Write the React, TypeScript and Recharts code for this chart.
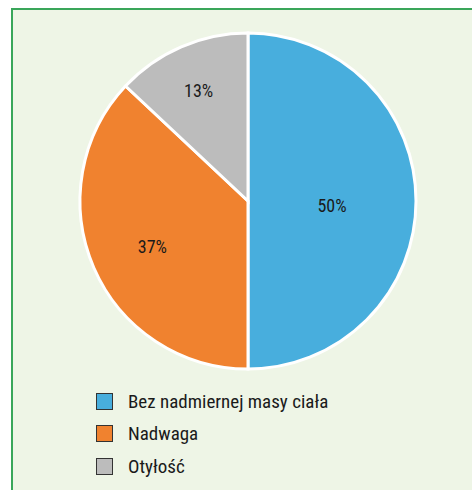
import { PieChart, Pie, Cell } from 'recharts';

const categories = ['Bez nadmiernej masy ciała', 'Nadwaga', 'Otyłość'];
const shares = [50, 37, 13];
const colors = ['#48aedd', '#f0822f', '#bcbcbc'];

const data = categories.map((name, i) => ({ name, value: shares[i] }));

const FONT = '"Liberation Sans Narrow", "Roboto Condensed", "Liberation Sans", Arial, sans-serif';
const RADIAN = Math.PI / 180;
// labels sit at different depths in the original
const labelDepth = [0.5, 0.62, 0.74];

const renderLabel = (props: any) => {
  const { cx, cy, midAngle, outerRadius, index, value } = props;
  const r = outerRadius * labelDepth[index];
  const x = cx + r * Math.cos(-midAngle * RADIAN);
  const y = cy + r * Math.sin(-midAngle * RADIAN) + 4;
  return (
    <text x={x} y={y} fill="#1a1a1a" fontSize={18} fontFamily={FONT} textAnchor="middle" dominantBaseline="central">
      {`${value}%`}
    </text>
  );
};

function ChartLegend() {
  return (
    <div style={{ position: 'absolute', left: 96, top: 385, fontFamily: FONT, fontSize: 19, color: '#1a1a1a' }}>
      {categories.map((c, i) => (
        <div key={c} style={{ display: 'flex', alignItems: 'center', height: 32.5 }}>
          <span
            style={{
              width: 15,
              height: 15,
              background: colors[i],
              border: '1.5px solid #333',
              marginRight: 15,
            }}
          />
          <span>{c}</span>
        </div>
      ))}
    </div>
  );
}

export default function App() {
  return (
    <div style={{ position: 'absolute', left: 0, top: 0, width: 472, height: 490, background: '#fff', overflow: 'hidden' }}>
      <div
        style={{
          position: 'absolute',
          left: 11,
          top: 8,
          width: 480,
          height: 500,
          background: '#eef5e6',
          borderTop: '2px solid #3aa65a',
          borderLeft: '2px solid #3aa65a',
        }}
      />
      <div style={{ position: 'absolute', left: 0, top: 0 }}>
        <PieChart width={472} height={490} margin={{ top: 0, right: 0, bottom: 0, left: 0 }}>
          <Pie
            data={data}
            dataKey="value"
            nameKey="name"
            cx={248}
            cy={201}
            outerRadius={168}
            startAngle={90}
            endAngle={-270}
            stroke="#ffffff"
            strokeWidth={3}
            label={renderLabel}
            labelLine={false}
            isAnimationActive={false}
          >
            {data.map((d, i) => (
              <Cell key={d.name} fill={colors[i]} />
            ))}
          </Pie>
        </PieChart>
      </div>
      <ChartLegend />
    </div>
  );
}
